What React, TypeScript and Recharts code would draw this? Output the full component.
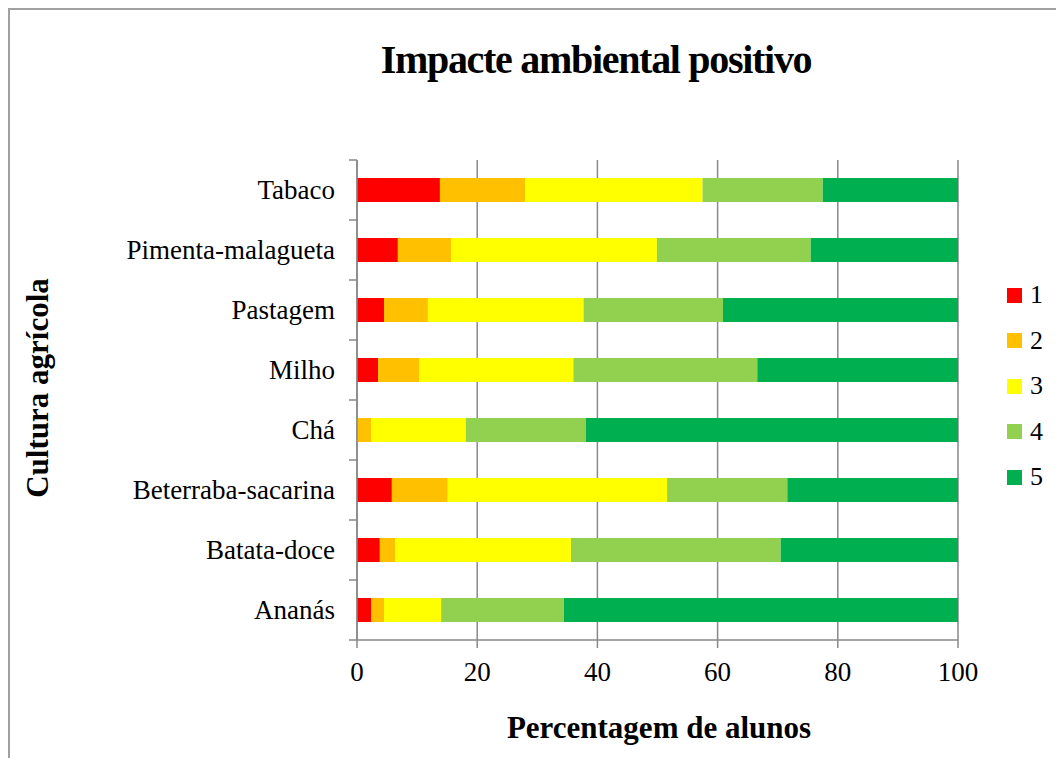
import React from "react";
import { BarChart, Bar, XAxis, YAxis, CartesianGrid } from "recharts";

const CATEGORIES = [
  "Tabaco",
  "Pimenta-malagueta",
  "Pastagem",
  "Milho",
  "Chá",
  "Beterraba-sacarina",
  "Batata-doce",
  "Ananás",
];

const LEVEL_1 = [13.8, 6.8, 4.5, 3.5, 0, 5.8, 3.8, 2.4];
const LEVEL_2 = [14.2, 8.9, 7.3, 6.9, 2.4, 9.3, 2.6, 2.1];
const LEVEL_3 = [29.5, 34.2, 25.9, 25.6, 15.7, 36.5, 29.2, 9.5];
const LEVEL_4 = [20.0, 25.6, 23.2, 30.6, 20.0, 20.0, 34.9, 20.4];
const LEVEL_5 = [22.5, 24.5, 39.1, 33.4, 61.9, 28.4, 29.5, 65.6];

const SERIES_NAMES = ["1", "2", "3", "4", "5"];
const SERIES_VALUES = [LEVEL_1, LEVEL_2, LEVEL_3, LEVEL_4, LEVEL_5];
const COLORS = ["#ff0000", "#ffc000", "#ffff00", "#92d050", "#00b050"];
const X_TICKS = [0, 20, 40, 60, 80, 100];

const W = 1056;
const H = 750;
const MARGIN = { top: 152, right: 106, bottom: 0, left: 0 };
const Y_AXIS_W = 349;
const X_AXIS_H = 118;
const PLOT_H = H - MARGIN.top - X_AXIS_H;
const BAND = PLOT_H / CATEGORIES.length;
const AXIS = "#898989";
const FONT = "'Liberation Serif', 'Times New Roman', serif";

const data = CATEGORIES.map((name, i) => {
  const row: Record<string, string | number> = { name };
  SERIES_NAMES.forEach((s, k) => {
    row[s] = SERIES_VALUES[k][i];
  });
  return row;
});

function CategoryTick(props: any) {
  const { y, payload, index } = props;
  const x0 = Y_AXIS_W;
  return (
    <g>
      <line x1={x0 - 8} x2={x0} y1={y - BAND / 2} y2={y - BAND / 2} stroke={AXIS} strokeWidth={1.5} />
      {index === CATEGORIES.length - 1 && (
        <line x1={x0 - 8} x2={x0} y1={y + BAND / 2} y2={y + BAND / 2} stroke={AXIS} strokeWidth={1.5} />
      )}
      <text x={x0 - 22} y={y} dy="0.35em" textAnchor="end" fontSize={27} fontFamily={FONT} fill="#000">
        {payload.value}
      </text>
    </g>
  );
}

export default function App() {
  return (
    <div style={{ position: "relative", width: W, height: H, overflow: "hidden", background: "#fff" }}>
      <div
        style={{
          position: "absolute",
          left: 0,
          top: 0,
          width: W + 20,
          height: H + 20,
          borderLeft: "2.5px solid #a0a0a0",
          borderTop: "2.5px solid #a0a0a0",
          boxSizing: "border-box",
        }}
      />
      <BarChart
        width={W}
        height={H}
        data={data}
        layout="vertical"
        margin={MARGIN}
        barSize={24}
        style={{ position: "absolute", left: 0, top: 0 }}
      >
        <CartesianGrid horizontal={false} stroke={AXIS} strokeWidth={1.5} />
        <XAxis
          type="number"
          domain={[0, 100]}
          ticks={X_TICKS}
          height={X_AXIS_H}
          tickSize={8}
          tickMargin={14}
          stroke={AXIS}
          strokeWidth={1.5}
          tick={{ fontSize: 27, fontFamily: FONT, fill: "#000" }}
          interval={0}
        />
        <YAxis
          type="category"
          dataKey="name"
          width={Y_AXIS_W}
          tickLine={false}
          stroke={AXIS}
          strokeWidth={1.5}
          tick={<CategoryTick />}
          interval={0}
        />
        {SERIES_NAMES.map((s, k) => (
          <Bar key={s} dataKey={s} stackId="a" fill={COLORS[k]} isAnimationActive={false} />
        ))}
      </BarChart>
      <svg
        width={W}
        height={H}
        style={{ position: "absolute", left: 0, top: 0, pointerEvents: "none" }}
      >
        <text x={588} y={65} textAnchor="middle" fontSize={40} fontWeight="bold" fontFamily={FONT} letterSpacing={-1.3}>
          Impacte ambiental positivo
        </text>
        <text x={651} y={730} textAnchor="middle" fontSize={31} fontWeight="bold" fontFamily={FONT}>
          Percentagem de alunos
        </text>
        <text
          x={40}
          y={380}
          transform="rotate(-90, 40, 380)"
          textAnchor="middle"
          fontSize={31}
          fontWeight="bold"
          fontFamily={FONT}
        >
          Cultura agrícola
        </text>
      </svg>
      {SERIES_NAMES.map((s, k) => (
        <div
          key={s}
          style={{
            position: "absolute",
            left: 999,
            top: 279 + k * 45.5,
            height: 16,
            display: "flex",
            alignItems: "center",
            fontFamily: FONT,
            fontSize: 26,
          }}
        >
          <span style={{ width: 15, height: 15, background: COLORS[k], display: "inline-block" }} />
          <span style={{ marginLeft: 8, lineHeight: "16px" }}>{s}</span>
        </div>
      ))}
    </div>
  );
}
